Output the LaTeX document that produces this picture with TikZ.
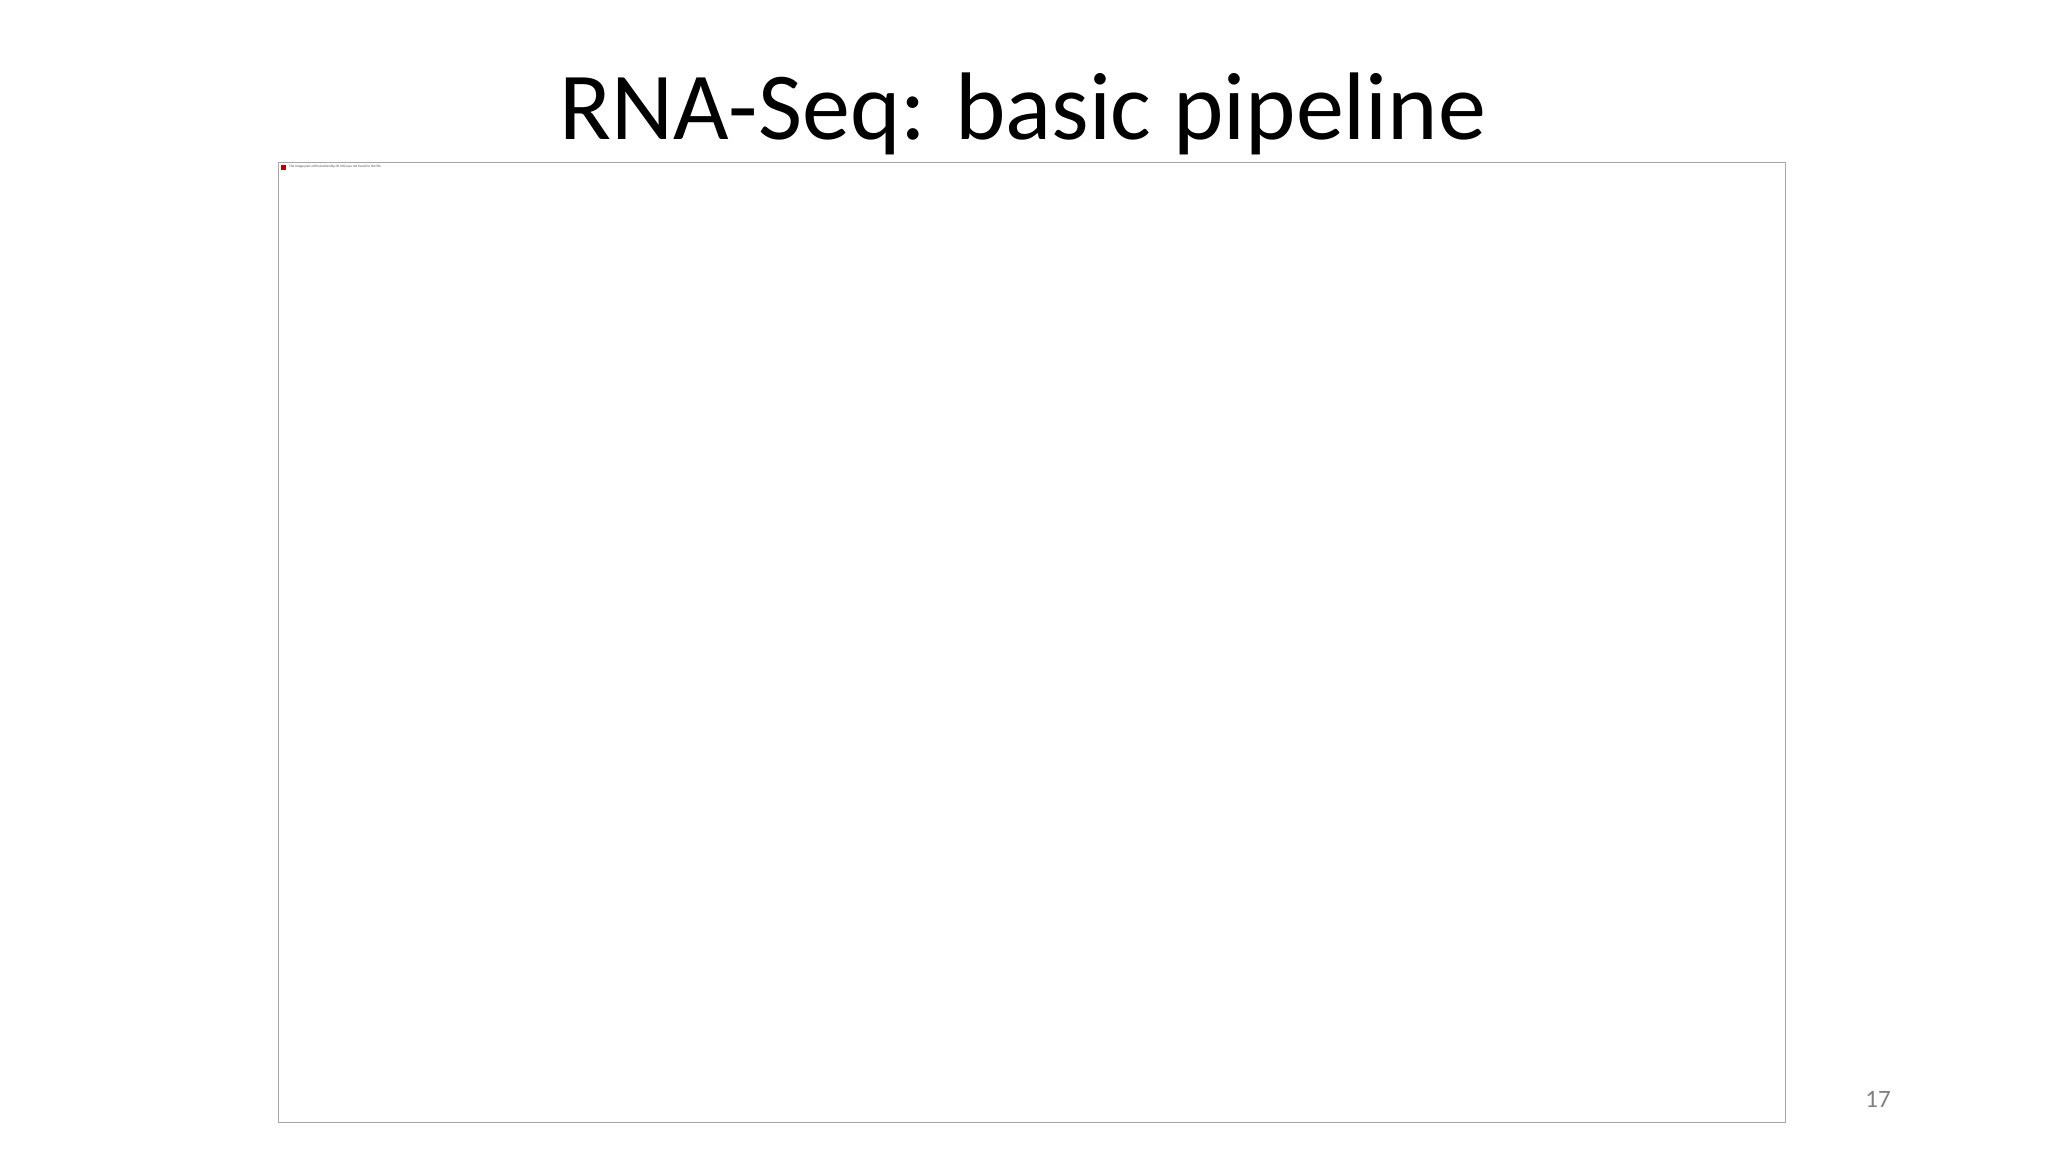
\documentclass[tikz,border=0pt]{standalone}
\usepackage{fontspec}
\setmainfont{Carlito}
\begin{document}
\begin{tikzpicture}[x=1pt,y=1pt]
\useasboundingbox (0,0) rectangle (2048,1152);
\node[anchor=base,font=\fontsize{96}{105}\selectfont,inner sep=0] (title) at (1023,1152-140) {RNA-Seq: basic pipeline};
\node[draw=gray!70,line width=1.2pt,minimum width=1507,minimum height=960,anchor=north west,inner sep=0] (frame) at (278,1152-162) {};
\node[fill=red!70!black,minimum size=5,inner sep=0,anchor=north west] (icon) at (281,1152-165) {};
\node[anchor=west,font=\fontsize{3.5}{4}\selectfont,text=black!70,inner sep=0] (msg) at (289,1152-167) {The image part with relationship ID rId2 was not found in the file.};
\node[font=\fontsize{25}{29}\selectfont,text=gray,inner sep=0] (pg) at (1878,1152-1099) {17};
\end{tikzpicture}
\end{document}
